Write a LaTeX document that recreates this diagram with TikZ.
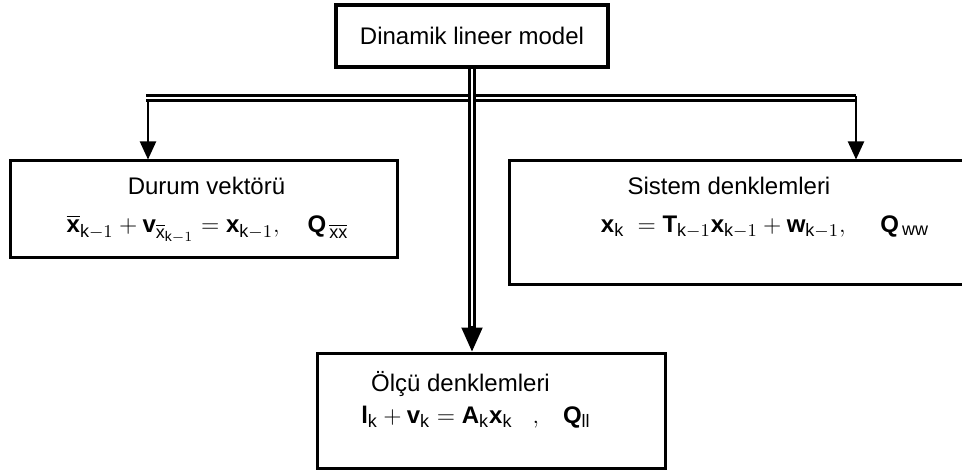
\documentclass[tikz,border=0pt]{standalone}
\usepackage{fontspec}
\setmainfont{Liberation Sans}
\usepackage{amsmath}
\DeclareMathSizes{12}{12}{9}{7}
\usetikzlibrary{arrows.meta,calc}
\tikzset{
  box/.style={draw,line width=1.5pt,fill=white,inner sep=0pt,align=center,
    font=\fontsize{12}{14}\selectfont},
  topbox/.style={box,line width=2pt},
  txt/.style={anchor=base,inner sep=0pt,font=\fontsize{12}{14}\selectfont},
  dbl/.style={line width=1.3pt,double,double distance=1.4pt},
  feed/.style={line width=1pt,-{Triangle[length=9pt,width=8pt]}},
  feedbig/.style={line width=1pt,-{Triangle[length=12pt,width=10.5pt]}},
}
\begin{document}
\begin{tikzpicture}[x=0.5pt,y=-0.5pt]
  \useasboundingbox (0,0) rectangle (962,470);
  % ---- boxes ----
  \node[topbox,minimum width=136pt,minimum height=31pt] (model) at (472,36)
    {Dinamik lineer model};
  \node[box,minimum width=193.5pt,minimum height=48pt] (durum) at (203.5,209) {};
  \node[box,minimum width=253pt,minimum height=61.5pt] (sistem) at (762,222.5) {};
  \node[box,minimum width=174pt,minimum height=57.5pt] (olcu) at (491,410.5) {};
  % ---- texts in the boxes ----
  \node[txt] (durumT) at (206.5,195) {Durum vektörü};
  \node[txt] (durumE) at (207.5,233)
    {$\overline{\mathbf{x}}_{\mathrm{k}-1}+\mathbf{v}_{\overline{\mathrm{x}}_{\mathrm{k}-1}}
      =\mathbf{x}_{\mathrm{k}-1},\quad\mathbf{Q}_{\,\overline{\mathrm{xx}}}$};
  \node[txt] (sistemT) at (729,195) {Sistem denklemleri};
  \node[txt] (sistemE) at (765,232)
    {$\mathbf{x}_{\mathrm{k}}\ =\mathbf{T}_{\mathrm{k}-1}\mathbf{x}_{\mathrm{k}-1}
      +\mathbf{w}_{\mathrm{k}-1},\quad\ \mathbf{Q}_{\,\mathrm{ww}}$};
  \node[txt] (olcuT) at (460.5,391) {Ölçü denklemleri};
  \node[txt] (olcuE) at (476,423)
    {$\mathbf{l}_{\mathrm{k}}+\mathbf{v}_{\mathrm{k}}=\mathbf{A}_{\mathrm{k}}\mathbf{x}_{\mathrm{k}}
      \ \ \ ,\ \ \ \mathbf{Q}_{\mathrm{ll}}$};
  % ---- connectors ----
  \coordinate (hl) at (146,98);
  \coordinate (hr) at (856,98);
  \coordinate (dl) at (148,100);
  \coordinate (dr) at (856,96);
  \draw[dbl] (hl) -- (hr);
  \draw[feed] (dl) -- (dl |- durum.north);
  \draw[feed] (dr) -- (dr |- sistem.north);
  \draw[dbl] (model.south) -- ($(model.south |- olcu.north)+(0,-23)$);
  \draw[feedbig] ($(model.south |- olcu.north)+(0,-26)$) -- (model.south |- olcu.north);
\end{tikzpicture}
\end{document}
